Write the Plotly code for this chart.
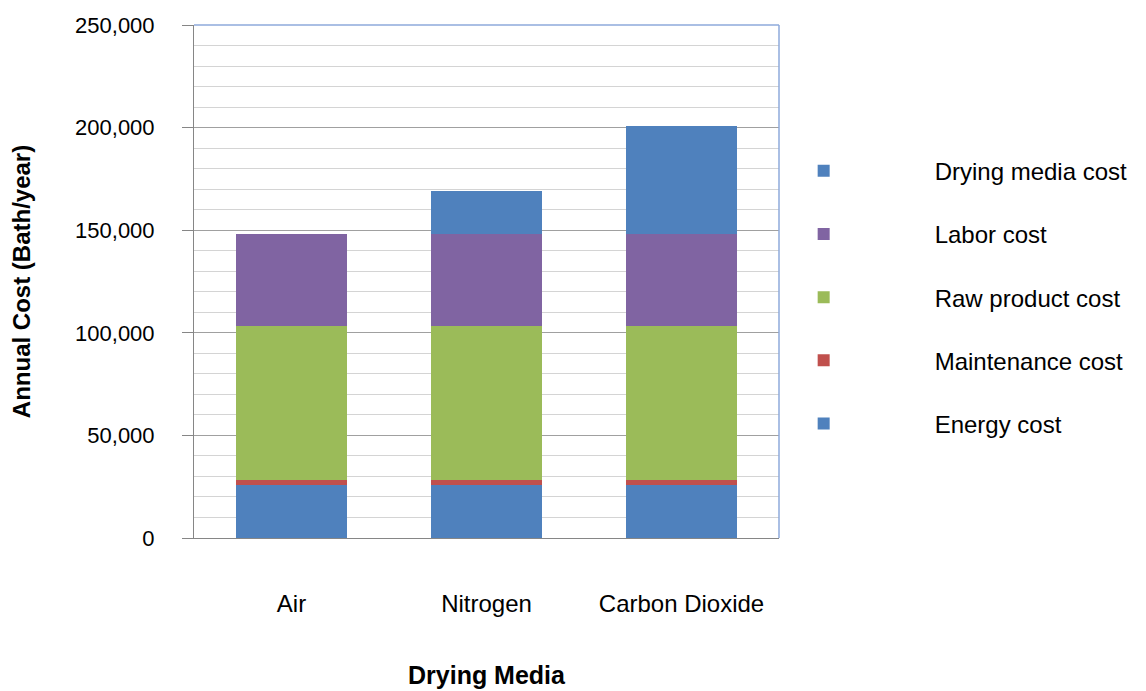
import plotly.graph_objects as go

categories = ["Air", "Nitrogen", "Carbon Dioxide"]
energy_cost = [25700, 25700, 25700]
maintenance_cost = [2800, 2800, 2800]
raw_product_cost = [75000, 75000, 75000]
labor_cost = [44800, 44800, 44800]
drying_media_cost = [0, 20800, 52400]

series = [
    ("Energy cost", energy_cost, "#4F81BD"),
    ("Maintenance cost", maintenance_cost, "#C0504D"),
    ("Raw product cost", raw_product_cost, "#9BBB59"),
    ("Labor cost", labor_cost, "#8064A2"),
    ("Drying media cost", drying_media_cost, "#4F81BD"),
]

FONT = "Liberation Sans, Arial, sans-serif"

fig = go.Figure()
n = len(series)
for i, (name, vals, col) in enumerate(series):
    fig.add_trace(go.Bar(
        x=categories, y=vals, name=name, legendgroup=name,
        legendrank=n - i,
        marker=dict(color=col, line=dict(width=0)),
        width=0.571,
    ))

fig.update_layout(
    barmode="stack",
    width=1146, height=691,
    margin=dict(l=194, r=367, t=25, b=153, autoexpand=False),
    paper_bgcolor="white", plot_bgcolor="white",
    font=dict(family=FONT, color="#000000"),
    showlegend=True,
    legend=dict(
        traceorder="grouped",
        tracegroupgap=29,
        x=0.8866, xanchor="left", y=0.759, yanchor="top",
        font=dict(size=24, family=FONT, color="#000000"),
        itemwidth=212,
        bgcolor="rgba(0,0,0,0)",
    ),
    xaxis=dict(
        automargin=False,
        showline=True, linecolor="#868686", linewidth=1,
        ticks="", tickfont=dict(size=24, family=FONT, color="#000000"),
        ticklabelstandoff=44,
        title=dict(text="<b>Drying Media</b>", font=dict(size=25, family=FONT), standoff=50),
        showgrid=False,
    ),
    yaxis=dict(
        automargin=False,
        range=[0, 250000], dtick=50000, tickformat=",d",
        showline=True, linecolor="#868686", linewidth=1,
        ticks="outside", ticklen=11, tickcolor="#868686",
        tickfont=dict(size=22, family=FONT, color="#000000"),
        ticklabelstandoff=23,
        showgrid=True, gridcolor="#A0A0A0", gridwidth=1,
        minor=dict(dtick=10000, showgrid=True, gridcolor="#D4D4D4", gridwidth=1, ticks=""),
        title=dict(text="<b>Annual Cost (Bath/year)</b>", font=dict(size=24, family=FONT), standoff=37),
        zeroline=False,
    ),
)

fig.add_shape(type="line", xref="paper", yref="paper", x0=0, x1=1, y0=1, y1=1,
              line=dict(color="#8EAADB", width=1.5), layer="above")
fig.add_shape(type="line", xref="paper", yref="paper", x0=1, x1=1, y0=0, y1=1,
              line=dict(color="#8EAADB", width=1.5), layer="above")

fig.write_html("out.html")
